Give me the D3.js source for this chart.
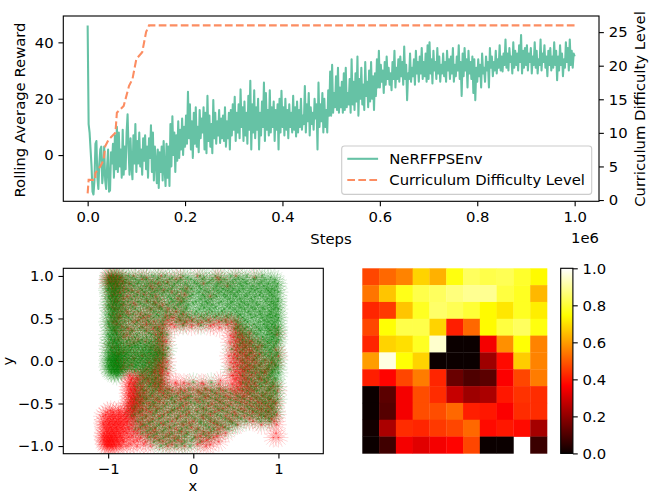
<!DOCTYPE html>
<html><head><meta charset="utf-8">
<script src="https://cdnjs.cloudflare.com/ajax/libs/d3/7.8.5/d3.min.js"></script>
<style>html,body{margin:0;padding:0;background:#fff;overflow:hidden}svg{display:block}text{font-family:"DejaVu Sans",sans-serif;font-size:14.8px;fill:#000}</style>
</head><body><div id="c"></div>
<script>
// ---- data ----
const rewardInterval = 2000;
const reward = [
46,11,8,2,-4,-13,-14,-9,4,5,-8,-12,-3,2,3,-10,-6,3,-9,-12,-4,2,-13,-12.5,1,-3,4,-8,7,-5,10,-6,8,-4,2,-8,9,-7,3,-5,8,14.5,2,-7,6,-4,-8.6,7,-3,11,
-6,5,-3,8,-4,2,-7,6,-2,7,-5,3,-8,6,-1,10.6,-6,8,-9,3,-2,-10,2,-11.7,1,-6,3,-9,5,-5,-11,4,-8,3,-11,11,-4,13.8,0,8,-6,7,-2,12,-1,9,2,13,0,10,
3,14,4,22.5,6,18,2,12,-1,15,4,17,3,10,1,16,6,13,8,17,2,15,0.7,21,5,14,3,11,0.7,19.5,6,15,4,12,7,16,4.3,13,6,14,5,17,3,12,6,15,2,16,7,18,
9,20.7,5,15,8,18,6,23.3,10,17,5,19,7,15,4,21,9,26.4,2,18,8,23,6,17,9,20,2,15,7,19,10,25.7,5,22,9,16,7,23,8,17,10,19,5,16,9,18,2,20,8,22.8,
10,17,7,20,9,16,6,18,10,15,8,21,9,17,6.6,19,8,16,10,20,9,14,11,24.5,8,18,12,22,7,17,11,15,9,20,13,18,2,25.7,10,18,12,22,8,20,10,16,8,23,14,29.6,
14,32,15,22,17,28,16,31,15,24,17,26,15,29,16,31,17,22,18,27,15,34,18,26,16,29,19,35,14,27,20,31,18,25,16,33,21,26,17,30,19,33,20,28,16,29,21,34,24,37,
24,32,26,30,22,33,25,35,27,31,25,29,23,33,27,37,24,31,27,34,26,35,28,33,25,38.5,27,32,19.5,29,27,36,26,31,28,34,25,37,29,33,26,35,29,38,27,33,28,36,26,39,
27,40,29,34,25.4,37,30,33,27,38,29,35,26,32,29,36,28,33,26,37,30,34,27,35,29,38,26,32,28,35,30,39,27,33,21,36,28,38,30,34,24,37,29,33,27,35,22,34,19.5,31,
26,34,28,32,24,36,29,31,26,35,30,33,24,38,31,35,28,33,30,37,29,34,31,39,30,35,29.7,36,32,41,31,36,30,38,33,35,29,40,31,37,32,36,30,39,33,42.6,29,37,31,38,
32,39,30,36,33,38,29,35,32,40,31,37,29,34,32,41,30,36,33,39,31,35,28,37,32,38,30,35,31,40,32,37,26.6,35,30,39,32,36,28,34,31,40,33,38,30,41,32,37,31,36,35];
const levelSteps = [0,2000,15800,15800,26000,33000,36000,43000,57000,60000,74000,85000,92000,100000,112000,120000,126000,1000000];
const levelValues = [1,3,3,4,5,6,8,9,10,13,14,17,18,21,22,25,26,26];
const legendLabels = ["NeRFFPSEnv","Curriculum Difficulty Level"];

const rowY = [100,96,91,85,81,76,70,66,61,55,51,46,40,36,31,25,21,16,10,6,1,-5,-10,-14,-20,-25,-30,-35,-41,-45,-50,-56,-60,-65,-71,-75,-80,-85,-90,-95,-100];
const greenX = [
[-99,-95,-90,-84,-76,-61,-47,-33,-12,8,26,44,63,81],
[-100,-96,-92,-87,-79,-68,-55,-42,-28,-15,-3,11,22,37,49,58,71,84,96],
[-98,-94,-90,-83,-74,-66,-53,-45,-31,-22,-9,4,16,29,41,55,63,77,88,99],
[-100,-95,-91,-86,-78,-62,-51,-38,-26,-13,-2,9,24,35,47,59,68,75,86,93],
[-97,-93,-89,-81,-72,-57,-46,-34,-19,-7,6,18,31,44,52,66,79,90,100],
[-99,-94,-90,-84,-69,-60,-48,-29,-16,-4,13,27,38,50,61,73,82,95],
[-96,-92,-88,-77,-65,-53,-40,-24,-11,3,15,33,46,57,70,85,92,99],
[-100,-95,-91,-85,-74,-58,-44,-31,-18,-6,10,22,40,54,64,76,89,97],
[-97,-93,-89,-80,-68,-50,-37,-21,-9,7,19,36,48,60,72,83,94,100],
[-99,-94,-90,-83,-71,-56,-43,-26,-14,2,16,30,44,55,67,79,90,98],
[-96,-92,-87,-76,-62,-47,-33,-17,-4,12,25,41,58,69,81,92,100],
[-100,-95,-90,-81,-66,-52,-38,-20,-10,5,20,38,52,64,77,88,96],
[-98,-93,-89,-78,-60,-45,52,63,74,86,95,100],
[-96,-92,-85,-72,-57,-41,55,68,79,90,99],
[-100,-95,-90,-82,-66,-49,-38,54,62,75,87,96],
[-97,-93,-88,-75,-60,-44,58,70,83,92,100],
[-99,-94,-90,-84,-70,-62,-52,-42,56,66,78,89,97],
[-96,-92,-87,-80,-72,-65,-57,-49,-42,61,73,85,94],
[-100,-95,-91,-85,-77,-69,-61,-53,-45,-39,55,68,80,91,99],
[-98,-94,-90,-88,-81,-73,-64,-56,-47,-41,63,76,88,96],
[-100,-97,-95,-92,-90,-86,-78,-70,-62,-54,-46,-40,58,71,83,93,100],
[-99,-96,-93,-90,-87,-83,-75,-67,-58,-50,-42,66,78,90,97],
[-98,-94,-91,-88,-80,-72,-63,-55,-46,60,74,86,95],
[-96,-92,-88,-60,-49,69,81,92,100],
[-54,-44,64,77,88,96],
[-60,-46,-38,58,72,84,93],
[-66,-52,-41,68,80,91,99],
[-58,-47,-33,-15,6,22,38,63,75,87,95],
[-62,-51,-36,-20,-3,13,31,52,70,83,92],
[-67,-55,-40,-26,-9,8,26,44,60,78,90,99],
[-59,-46,-31,-14,2,18,36,55,72,85,94],
[-70,-52,-38,-22,-6,11,29,47,66,80,93],
[-63,-44,-27,-12,5,21,40,58,74,88,97],
[-72,-56,-36,-18,-1,16,33,52,69,83,92],
[-65,-48,-30,-9,8,25,43,62,79,90],
[-58,-41,-22,-3,14,32,50],
[-68,-50,-33,-14,6,24,41],
[-60,-43,-25,-7,12,29],
[-52,-35,-18,1,19],
[-46,-27,-10,8],
[-38,-20,-4]];
const redX = [
[-97,-90,-70,-38,5,50],
[-99,-88,-60,-20,30],
[-100,-92,-75,-41,12],
[-94,-82,-48,-8],
[-87,-65,-25],
[-96,-77,-44,20],
[-90,-55,-14],
[-83,-68,-36],
[-92,-50,-30],
[-76,-62,-12],
[-88,-58,-24],
[-94,-70,-46,-8,10,30,45],
[-84,-60,-40,53],
[-92,-72,-55],
[-78,-44,56,98],
[-88,-65,-41,54],
[-70,58,66],
[-95,-50,52,60,76],
[-82,-40,55,68],
[-60,51,62,72,100],
[-90,-45,56,70,85],
[-72,-40,52,64,78,96],
[-85,-55,-38,58,66,88],
[-46,-38,54,73,84],
[-72,-66,-58,-44,51,60,78],
[-74,-68,-52,-39,55,65,86],
[-76,-70,-60,-46,-38,51,63,74,94],
[-73,-68,-55,-40,-25,-10,5,20,35,48,57,70,99],
[-75,-70,-64,-48,-28,-6,17,38,60,81],
[-72,-68,-60,-44,-15,3,28,50,68,90],
[-76,-71,-66,-52,-35,-8,22,44,62,80,97],
[-74,-69,-60,-42,-18,12,35,56,75,92],
[-101,-94,-86,-78,-72,-64,-50,-30,-5,25,48,70,88],
[-106,-98,-92,-85,-78,-70,-55,-40,-15,10,38,60,85],
[-103,-97,-90,-84,-77,-68,-52,-25,0,20,45,70,95],
[-105,-100,-94,-88,-82,-72,-60,-35,-12,28,52,80,98],
[-102,-96,-90,-83,-75,-64,-45,-20,5,30],
[-105,-99,-93,-86,-78,-66,-50,-28,-8,18,38,97],
[-104,-100,-96,-90,-84,-76,-62,-44,-22,3,24,94,100],
[-103,-100,-98,-94,-88,-82,-70,-56,-36,-14,10,30],
[-102,-100,-97,-95,-91,-85,-78,-66,-50,-30,-10,15]];
const rowY2 = [98,93,88,83,78,73,68,63,58,53,48,43,38,33,28,23,18,13,8,3,-2,-7,-12,-17,-22,-27,-33,-38,-43,-48,-53,-58,-63,-68,-73,-78,-83,-88,-93,-98];
const greenX2 = [
[-97,-93,-86,-72,-58,-41,-25,-7,13,32,53,74,91],
[-99,-91,-80,-64,-49,-36,-18,1,19,33,46,61,80,95],
[-96,-88,-70,-56,-40,-24,-6,7,27,43,57,70,83,98],
[-100,-92,-76,-60,-43,-30,-10,14,28,40,54,72,88,96],
[-95,-86,-66,-50,-37,-22,-1,11,24,36,48,63,78,92],
[-98,-91,-73,-55,-42,-26,-12,8,21,42,55,68,87,99],
[-93,-82,-62,-47,-28,-15,0,17,30,44,60,74,94],
[-99,-87,-71,-54,-39,-23,-8,13,26,43,56,69,81,97],
[-94,-84,-64,-46,-32,-12,4,22,34,51,65,78,91],
[-97,-79,-59,-41,-28,-7,9,27,39,53,73,87,96],
[-92,-73,-54,-35,-15,-1,15,33,49,61,84,99],
[-99,-86,-68,-50,-36,56,71,83,93],
[-94,-80,-63,-42,50,60,77,88,97],
[-91,-74,-52,-36,58,72,92,100],
[-98,-86,-69,-55,-40,52,65,81,94],
[-93,-78,-64,-50,-38,62,76,87,98],
[-100,-89,-76,-68,-55,-46,-36,54,70,82,95],
[-97,-88,-82,-74,-59,-51,-40,58,75,90],
[-93,-86,-79,-66,-58,-50,-43,-36,66,84,98],
[-99,-91,-84,-76,-68,-60,-52,-44,-37,52,74,92],
[-96,-92,-88,-81,-73,-65,-56,-48,-39,61,80,95],
[-100,-94,-89,-85,-77,-69,-60,-52,-44,-37,56,72,88,99],
[-97,-93,-89,-84,-68,-58,-49,-41,64,79,93],
[-90,-62,-52,-40,58,76,90],
[-57,-48,-38,68,83,97],
[-63,-50,-41,62,78,94],
[-60,-44,-28,-5,14,30,58,72,89],
[-65,-49,-30,-12,10,25,44,67,81,97],
[-58,-42,-25,-6,20,36,55,74,88],
[-63,-47,-22,-3,12,31,50,66,82,96],
[-68,-50,-34,-16,7,26,42,63,77,91],
[-60,-43,-24,-9,15,34,53,70,85],
[-69,-47,-29,-5,12,28,46,64,80,95],
[-60,-40,-19,2,20,38,56,76,89],
[-52,-34,-13,9,28,46],
[-62,-45,-27,-8,18,37],
[-54,-36,-16,3,21],
[-47,-29,-10,15],
[-40,-22,-2],
[-32,-13]];
const redX2 = [
[-99,-94,-85,-55,-15,28,72],
[-96,-83,-30],
[-89,-50,40],
[-72,-35],
[-93,-58,-10],
[-82,-18],
[-70,-45],
[-95,-40],
[-78,-20],
[-86,-52,-32],
[-65,-30,-16,-2,18,38],
[-90,-55,-34,-26,-12,6,24,40,50],
[-76,-47,-36,48],
[-38,50,66],
[-82,-36,47,58],
[-56,-36,50,68],
[-75,-37,48,62,80],
[-44,-35,50,66,97],
[-88,-36,48,60,78],
[-70,-35,47,64],
[-52,-36,49,58,74,92],
[-82,-36,47,62,70],
[-45,-36,50,60,84],
[-75,-60,-38,47,56,68],
[-73,-65,-53,-36,49,62,80],
[-75,-70,-45,-34,-20,-5,12,30,46,56,72],
[-74,-69,-62,-38,-30,-15,0,15,32,44,53,66,90],
[-76,-71,-58,-35,-18,8,27,50,64,85],
[-73,-69,-55,-32,-10,14,42,58,74],
[-74,-70,-62,-40,-22,6,32,56,76,94],
[-77,-72,-64,-46,-12,18,40,68,88],
[-97,-88,-76,-70,-55,-25,4,30,60,80],
[-103,-95,-88,-81,-74,-60,-35,-8,20,50,78,98],
[-100,-94,-87,-80,-72,-48,-20,12,42,66,92],
[-106,-99,-92,-86,-79,-62,-38,-5,24],
[-104,-98,-91,-85,-77,-56,-28,-2,35],
[-101,-95,-89,-81,-70,-46,-14,12],
[-106,-102,-97,-92,-86,-72,-54,-32,8,28],
[-105,-101,-98,-95,-90,-83,-66,-40,-18,16],
[-104,-101,-99,-96,-93,-87,-74,-58,-25,5,20]];
// marks hugging the central hole
const ringX = [-31,-32,-30,-33,-31,-32,-30,-22,-12,-2,9,20,31,-21,-11,0,10,21,32,44,43,45,42,44,43,45];
const ringY = [31,23,15,7,-1,-9,-15,40,42,41,42,41,39,-25,-26,-25,-26,-25,-23,30,22,14,6,-2,-10,-17];
const ringColor = ["g","r","g","g","r","g","r","r","g","r","g","r","r","r","r","g","r","g","r","r","r","g","r","r","g","r"];

const heat = [
[.47,.52,.56,.68,.63,.76,.84,.82,.83,.79,.74],
[.54,.66,.77,.82,.84,.87,.89,.89,.81,.78,.64],
[.42,.45,.66,.78,.85,.83,.80,.74,.71,.78,.72],
[.47,.75,.82,.82,.68,.41,.52,.74,.81,.84,.76],
[.42,.68,.70,.78,.95,0,0,.35,.58,.75,.56],
[.60,.97,.75,.68,0,0,0,.22,.38,.67,.56],
[.41,.37,.47,.55,.42,.14,.10,.12,.36,.47,.55],
[0,.12,.35,.48,.43,.28,.22,.24,.40,.44,.43],
[0,.11,.35,.48,.48,.52,.41,.40,.36,.43,.43],
[.01,.24,.43,.42,.45,.47,.52,.38,.40,.38,.23],
[0,.08,.35,.32,.35,.37,.47,0,0,null,.07]];
const hotStops = [0,.365,.746,1];
const hotColors = ["#0b0000","#ff0000","#ffff00","#ffffff"];

// ---- layout ----
const TICK = 4.86, PAD = 4.86, SW = 1.11, LW = 2.08;
const svg = d3.select("#c").append("svg").attr("width",650).attr("height",495);
const defs = svg.append("defs");
function clip(id,x,y,w,h){defs.append("clipPath").attr("id",id).append("rect").attr("x",x).attr("y",y).attr("width",w).attr("height",h);}
function styleAxis(g){g.selectAll("path.domain").remove();g.selectAll("line").attr("stroke","#000").attr("stroke-width",SW);
  g.selectAll("text").attr("font-family",null).attr("font-size",null).attr("fill",null);}
function frame(x0,y0,x1,y1){svg.append("rect").attr("x",x0).attr("y",y0).attr("width",x1-x0).attr("height",y1-y0).attr("fill","none").attr("stroke","#000").attr("stroke-width",SW);}
const ax = (g,a)=>g.call(a.tickSizeOuter(0).tickSize(TICK).tickPadding(PAD)).call(styleAxis);
function label(t,x,y,rot,anchor){const e=svg.append("text").text(t).attr("text-anchor",anchor||"middle");
  if(rot) e.attr("transform",`translate(${x},${y}) rotate(${rot})`); else e.attr("x",x).attr("y",y); return e;}

// ---- top panel ----
const T={l:63.3,r:599,t:16,b:201.3};
const x=d3.scaleLinear().domain([-50000,1050000]).range([T.l,T.r]);
const y=d3.scaleLinear().domain([-16.4,49.35]).range([T.b,T.t]);
const y2=d3.scaleLinear().domain([-0.19,27.4]).range([T.b,T.t]);
clip("ct",T.l,T.t,T.r-T.l,T.b-T.t);
const gt=svg.append("g").attr("clip-path","url(#ct)");
gt.append("path").datum(reward).attr("fill","none").attr("stroke","#66c2a5").attr("stroke-width",LW).attr("stroke-linejoin","round")
  .attr("d",d3.line().x((d,i)=>x(i*rewardInterval)).y(d=>y(d)));
gt.append("path").datum(levelValues).attr("fill","none").attr("stroke","#fc8d62").attr("stroke-width",LW).attr("stroke-dasharray","7.7,3.33")
  .attr("d",d3.line().x((d,i)=>x(levelSteps[i])).y(d=>y2(d)));
frame(T.l,T.t,T.r,T.b);
ax(svg.append("g").attr("transform",`translate(0,${T.b})`),d3.axisBottom(x).tickValues([0,2e5,4e5,6e5,8e5,1e6]).tickFormat(d=>d3.format(".1f")(d/1e6)));
ax(svg.append("g").attr("transform",`translate(${T.l},0)`),d3.axisLeft(y).tickValues([0,20,40]).tickFormat(d3.format("d")));
ax(svg.append("g").attr("transform",`translate(${T.r},0)`),d3.axisRight(y2).tickValues([0,5,10,15,20,25]).tickFormat(d3.format("d")));
label("Steps",331,244);
label("1e6",599,243,null,"end");
label("Rolling Average Reward",25,110,-90);
label("Curriculum Difficulty Level",645,109,-90);

// legend
svg.append("rect").attr("x",341.7).attr("y",146).attr("width",250).attr("height",48.4).attr("rx",2.8)
  .attr("fill","#fff").attr("fill-opacity",.8).attr("stroke","#ccc").attr("stroke-width",1.1);
[["#66c2a5",null],["#fc8d62","7.7,3.33"]].forEach((s,i)=>{
  const yy=158.8+i*21.2;
  svg.append("line").attr("x1",347.3).attr("x2",378.1).attr("y1",yy).attr("y2",yy).attr("stroke",s[0]).attr("stroke-width",LW).attr("stroke-dasharray",s[1]);
  svg.append("text").attr("x",389.3).attr("y",yy+5.3).text(legendLabels[i]);
});

// ---- scatter panel ----
const S={l:63.3,r:323.3,t:268.3,b:453.7};
const sx=d3.scaleLinear().domain([-1.527,1.527]).range([S.l,S.r]);
const sy=d3.scaleLinear().domain([-1.09,1.09]).range([S.b,S.t]);
clip("cs",S.l,S.t,S.r-S.l,S.b-S.t);
defs.append("filter").attr("id","soft").attr("x",0).attr("y",0).attr("width",1).attr("height",1).append("feGaussianBlur").attr("stdDeviation",.45);
const gs=svg.append("g").attr("clip-path","url(#cs)").append("g").attr("filter","url(#soft)");
const R=10;
const star=d3.range(8).map(k=>{const a=k*Math.PI/8,c=Math.cos(a)*R,s=Math.sin(a)*R;return `M${(-c).toFixed(2)},${(-s).toFixed(2)}L${c.toFixed(2)},${s.toFixed(2)}`;}).join("");
function stars(xs,yv,col){gs.append("g").selectAll("path").data(xs).join("path")
  .attr("d",star).attr("transform",d=>`translate(${sx(d/100)},${sy(yv/100)})`)
  .attr("fill","none").attr("stroke",col).attr("stroke-width",.7).attr("stroke-opacity",.22);}
const rows=[...rowY.map((v,i)=>({v,r:redX[i],g:greenX[i]})),...rowY2.map((v,i)=>({v,r:redX2[i],g:greenX2[i]}))].sort((a,b)=>b.v-a.v);
rows.forEach(o=>{stars(o.r,o.v,"#ff0000");stars(o.g,o.v,"#008000");});
ringX.forEach((vx,i)=>stars([vx],ringY[i],ringColor[i]==="r"?"#ff0000":"#008000"));
frame(S.l,S.t,S.r,S.b);
ax(svg.append("g").attr("transform",`translate(0,${S.b})`),d3.axisBottom(sx).tickValues([-1,0,1]).tickFormat(d3.format("d")));
ax(svg.append("g").attr("transform",`translate(${S.l},0)`),d3.axisLeft(sy).tickValues([-1,-.5,0,.5,1]).tickFormat(d3.format(".1f")));
label("x",193,491);
label("y",13,361,-90);

// ---- heatmap ----
const H={l:362.3,r:547,t:268.3,b:453.4};
const hx=d3.scaleBand().domain(d3.range(11)).range([H.l,H.r]);
const hy=d3.scaleBand().domain(d3.range(11)).range([H.t,H.b]);
const hot=d3.scaleLinear().domain(hotStops).range(hotColors).clamp(true);
svg.append("g").selectAll("g").data(heat).join("g").each(function(row,r){
  d3.select(this).selectAll("rect").data(row.map((v,c)=>({v,c})).filter(d=>d.v!==null)).join("rect")
    .attr("x",d=>hx(d.c)).attr("y",hy(r)).attr("width",hx.bandwidth()+.3).attr("height",hy.bandwidth()+.3).attr("fill",d=>hot(d.v));
});
// colourbar
const C={l:560.7,r:572.9,t:268.3,b:453.4};
const cy=d3.scaleLinear().domain([0,1]).range([C.b,C.t]);
const grad=defs.append("linearGradient").attr("id","hotg").attr("x1",0).attr("x2",0).attr("y1",1).attr("y2",0);
hotStops.forEach((s,i)=>grad.append("stop").attr("offset",s).attr("stop-color",hotColors[i]));
svg.append("rect").attr("x",C.l).attr("y",C.t).attr("width",C.r-C.l).attr("height",C.b-C.t).attr("fill","url(#hotg)");
frame(C.l,C.t,C.r,C.b);
ax(svg.append("g").attr("transform",`translate(${C.r},0)`),d3.axisRight(cy).tickValues([0,.2,.4,.6,.8,1]).tickFormat(d3.format(".1f")));
</script></body></html>
